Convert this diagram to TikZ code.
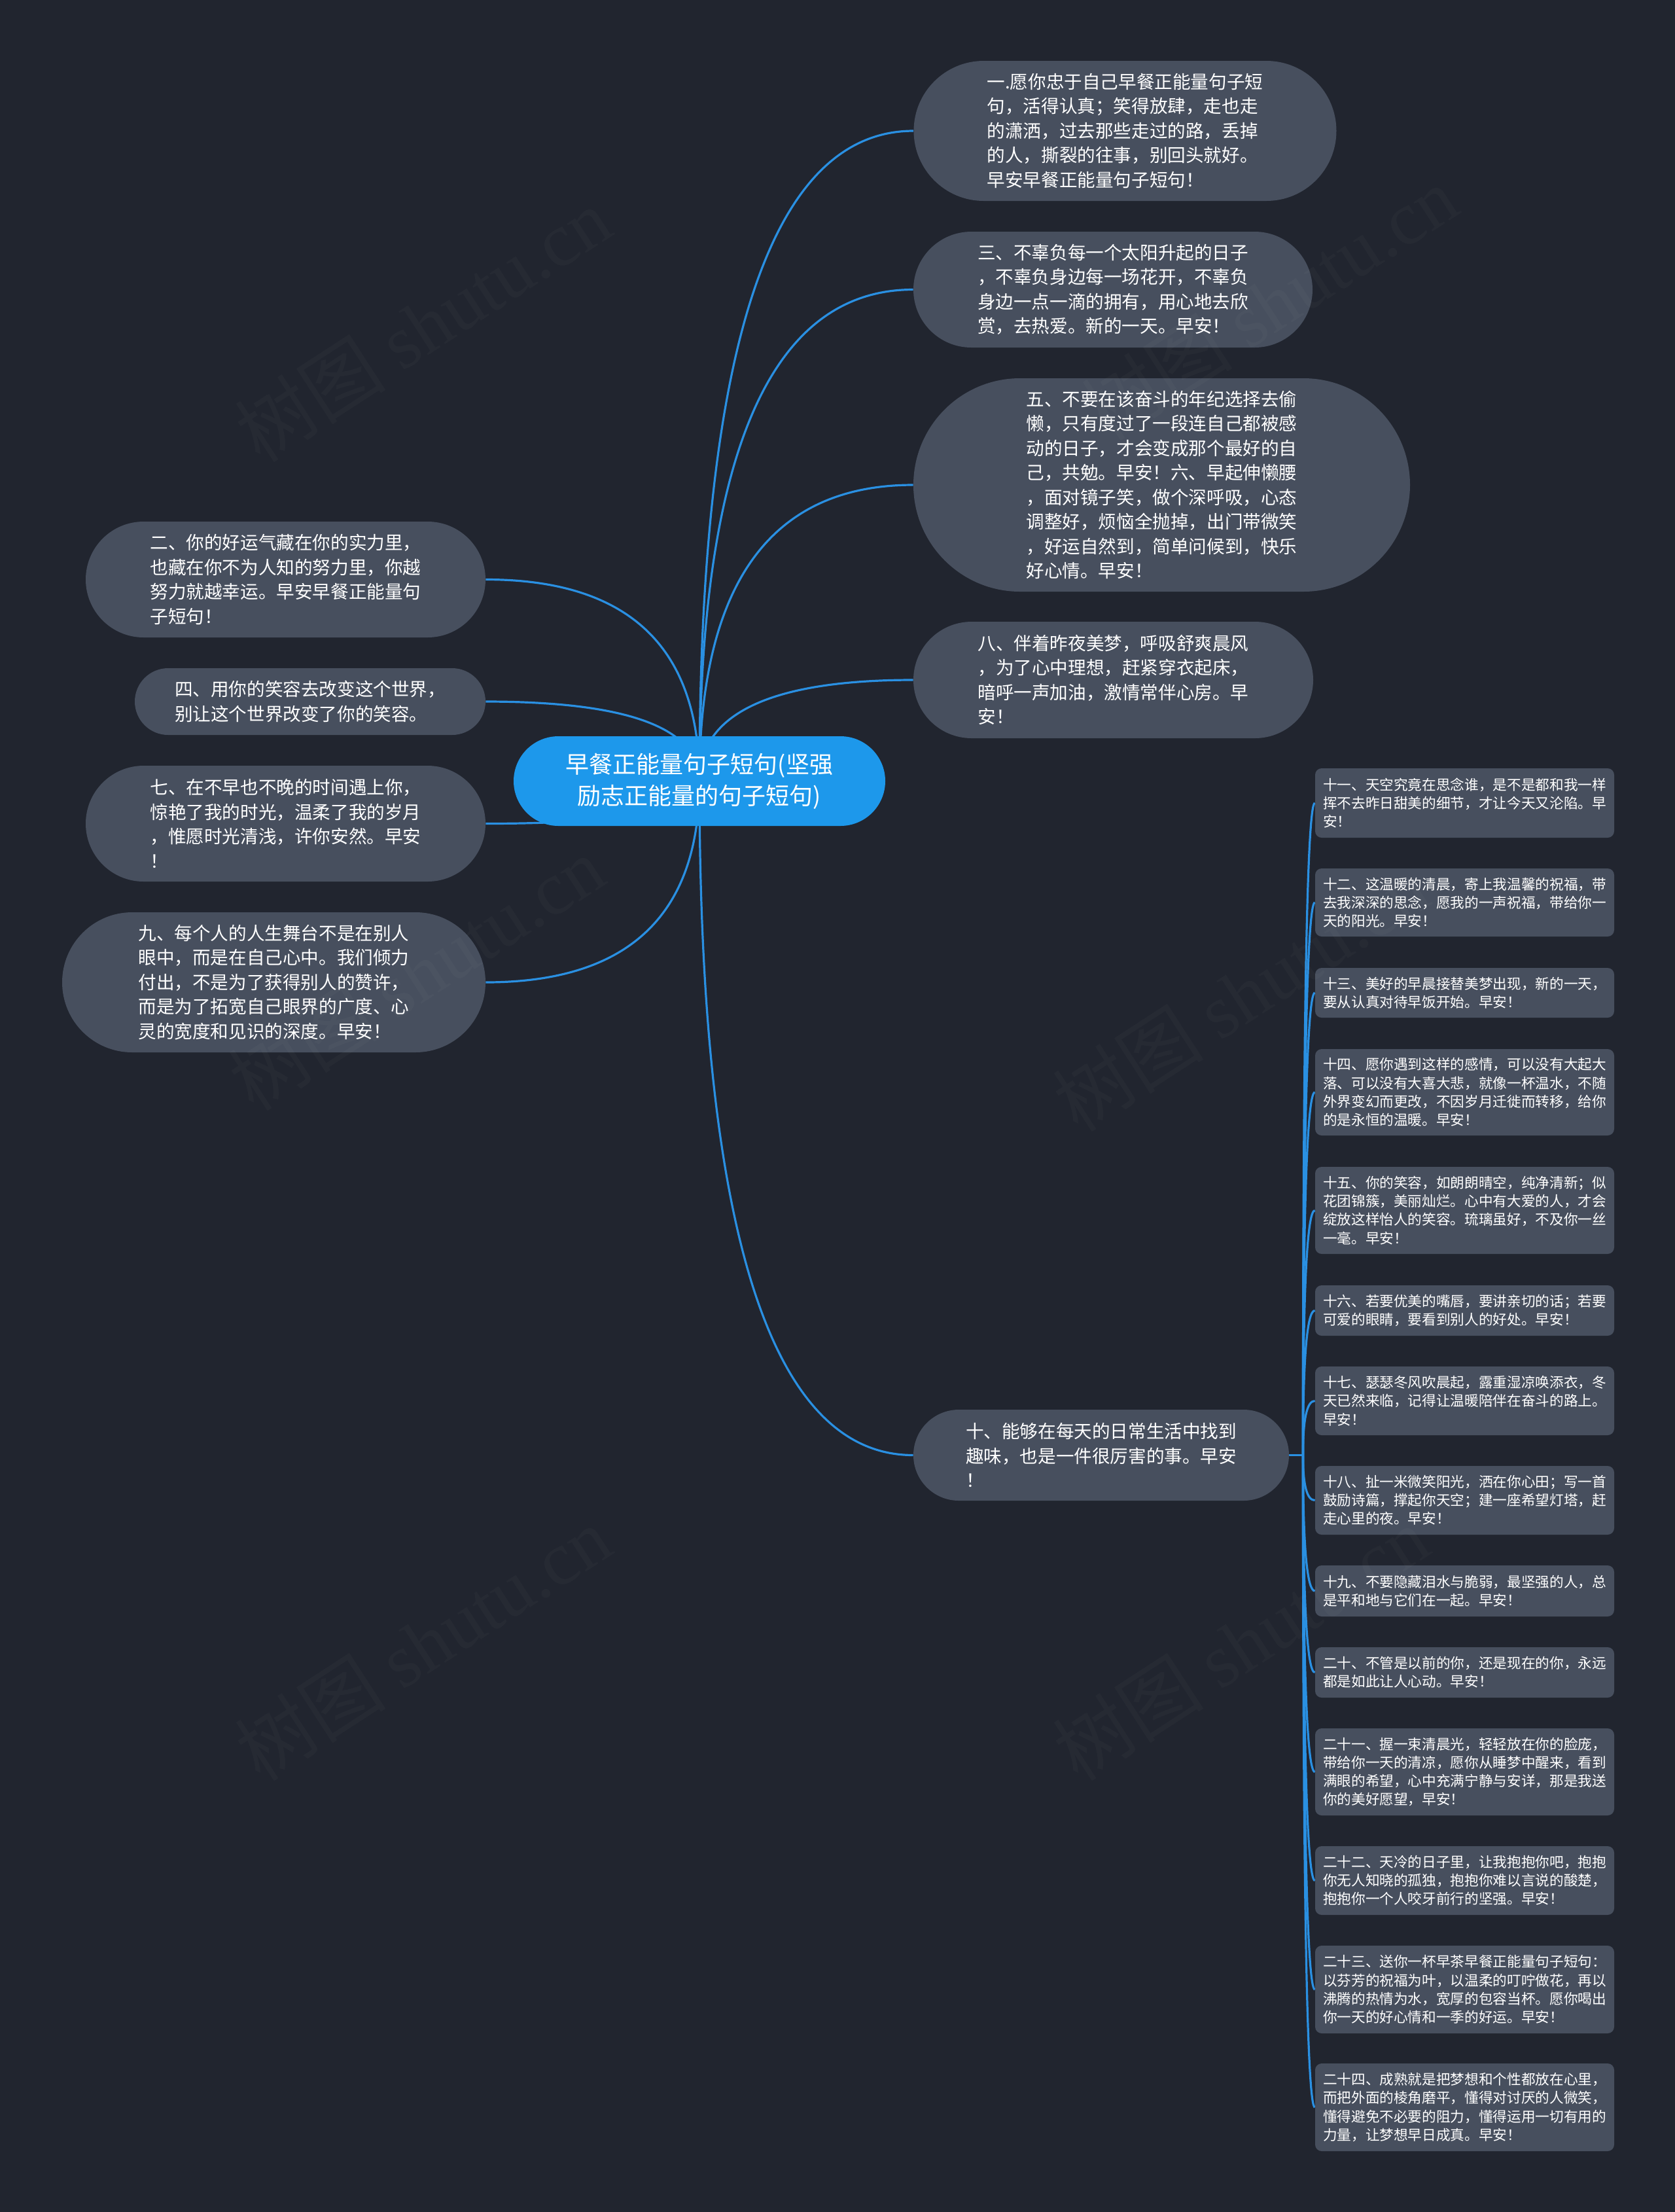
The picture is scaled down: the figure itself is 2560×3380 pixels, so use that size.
\documentclass[tikz,border=0pt]{standalone}
\usepackage{fontspec}
\setmainfont{Noto Sans CJK SC}
\newfontfamily\wmlatin{Liberation Serif}
\usetikzlibrary{calc}
\definecolor{bgc}{HTML}{21252F}
\definecolor{nodefill}{HTML}{474F5E}
\definecolor{rootblue}{HTML}{1D98EB}
\definecolor{linkblue}{HTML}{2A90E2}
\pgfdeclarelayer{back}
\pgfdeclarelayer{links}
\pgfsetlayers{back,links,main}
\newcommand\qlink[2]{%
  \draw[link] (#1) .. controls ($(#1)!0.6667!(#1|-#2)$) and ($(#2)!0.6667!(#1|-#2)$) .. (#2);}
\tikzset{
  pill/.style n args={2}{fill=nodefill, text=white, inner sep=0pt, align=left,
    font=\fontsize{13.8}{18.75}\selectfont,
    minimum width=#1*0.5pt, minimum height=#2*0.5pt, rounded corners=#2*0.25pt},
  small/.style={fill=nodefill, text=white, inner xsep=6pt, inner ysep=0pt, align=left,
    text width=216.5pt, font=\fontsize{10.83}{14.1}\selectfont,
    minimum width=228.5pt, minimum height=#1*0.5pt, rounded corners=5pt},
  root/.style={fill=rootblue, text=white, inner sep=0pt, align=center,
    font=\fontsize{18}{24}\selectfont,
    minimum width=284pt, minimum height=68.5pt, rounded corners=34.25pt},
  link/.style={draw=linkblue, line width=1.6pt},
  wm/.style={rotate=33, text=white, text opacity=0.025, font=\fontsize{58}{58}\selectfont, inner sep=0pt},
}
\begin{document}
\begin{tikzpicture}[x=0.5pt,y=-0.5pt]
\useasboundingbox (0,0) rectangle (2560,3380);
\begin{pgfonlayer}{back}
\fill[bgc] (0,0) rectangle (2560,3380);
\end{pgfonlayer}

% root
\node[root] (root) at (1069,1193.5) {早餐正能量句子短句(坚强\\励志正能量的句子短句)};

% right big nodes
\node[pill={646}{214}] (n1) at (1719.5,200) {一.愿你忠于自己早餐正能量句子短\\句，活得认真；笑得放肆，走也走\\的潇洒，过去那些走过的路，丢掉\\的人，撕裂的往事，别回头就好。\\早安早餐正能量句子短句！};
\node[pill={610}{177}] (n3) at (1701,442.5) {三、不辜负每一个太阳升起的日子\\，不辜负身边每一场花开，不辜负\\身边一点一滴的拥有，用心地去欣\\赏，去热爱。新的一天。早安！};
\node[pill={759}{326}] (n5) at (1775.5,741) {五、不要在该奋斗的年纪选择去偷\\懒，只有度过了一段连自己都被感\\动的日子，才会变成那个最好的自\\己，共勉。早安！六、早起伸懒腰\\，面对镜子笑，做个深呼吸，心态\\调整好，烦恼全抛掉，出门带微笑\\，好运自然到，简单问候到，快乐\\好心情。早安！};
\node[pill={611}{178}] (n8) at (1701.5,1039) {八、伴着昨夜美梦，呼吸舒爽晨风\\，为了心中理想，赶紧穿衣起床，\\暗呼一声加油，激情常伴心房。早\\安！};
\node[pill={574}{139}] (n10) at (1683,2223.5) {十、能够在每天的日常生活中找到\\趣味，也是一件很厉害的事。早安\\！};

% left big nodes
\node[pill={611}{177}] (n2) at (436.5,885.5) {二、你的好运气藏在你的实力里，\\也藏在你不为人知的努力里，你越\\努力就越幸运。早安早餐正能量句\\子短句！};
\node[pill={536}{102}] (n4) at (474,1072) {四、用你的笑容去改变这个世界，\\别让这个世界改变了你的笑容。};
\node[pill={611}{177}] (n7) at (436.5,1258.5) {七、在不早也不晚的时间遇上你，\\惊艳了我的时光，温柔了我的岁月\\，惟愿时光清浅，许你安然。早安\\！};
\node[pill={647}{214}] (n9) at (418.5,1501) {九、每个人的人生舞台不是在别人\\眼中，而是在自己心中。我们倾力\\付出，不是为了获得别人的赞许，\\而是为了拓宽自己眼界的广度、心\\灵的宽度和见识的深度。早安！};

% small nodes
\node[small=106] (s11) at (2238.5,1227) {十一、天空究竟在思念谁，是不是都和我一样\\挥不去昨日甜美的细节，才让今天又沦陷。早\\安！};
\node[small=104] (s12) at (2238.5,1379) {十二、这温暖的清晨，寄上我温馨的祝福，带\\去我深深的思念，愿我的一声祝福，带给你一\\天的阳光。早安！};
\node[small=76] (s13) at (2238.5,1517) {十三、美好的早晨接替美梦出现，新的一天，\\要从认真对待早饭开始。早安！};
\node[small=132] (s14) at (2238.5,1669) {十四、愿你遇到这样的感情，可以没有大起大\\落、可以没有大喜大悲，就像一杯温水，不随\\外界变幻而更改，不因岁月迁徙而转移，给你\\的是永恒的温暖。早安！};
\node[small=133] (s15) at (2238.5,1849.5) {十五、你的笑容，如朗朗晴空，纯净清新；似\\花团锦簇，美丽灿烂。心中有大爱的人，才会\\绽放这样怡人的笑容。琉璃虽好，不及你一丝\\一毫。早安！};
\node[small=77] (s16) at (2238.5,2002.5) {十六、若要优美的嘴唇，要讲亲切的话；若要\\可爱的眼睛，要看到别人的好处。早安！};
\node[small=105] (s17) at (2238.5,2140.5) {十七、瑟瑟冬风吹晨起，露重湿凉唤添衣，冬\\天已然来临，记得让温暖陪伴在奋斗的路上。\\早安！};
\node[small=105] (s18) at (2238.5,2292.5) {十八、扯一米微笑阳光，洒在你心田；写一首\\鼓励诗篇，撑起你天空；建一座希望灯塔，赶\\走心里的夜。早安！};
\node[small=78] (s19) at (2238.5,2431) {十九、不要隐藏泪水与脆弱，最坚强的人，总\\是平和地与它们在一起。早安！};
\node[small=77] (s20) at (2238.5,2555.5) {二十、不管是以前的你，还是现在的你，永远\\都是如此让人心动。早安！};
\node[small=133] (s21) at (2238.5,2707.5) {二十一、握一束清晨光，轻轻放在你的脸庞，\\带给你一天的清凉，愿你从睡梦中醒来，看到\\满眼的希望，心中充满宁静与安详，那是我送\\你的美好愿望，早安！};
\node[small=105] (s22) at (2238.5,2873.5) {二十二、天冷的日子里，让我抱抱你吧，抱抱\\你无人知晓的孤独，抱抱你难以言说的酸楚，\\抱抱你一个人咬牙前行的坚强。早安！};
\node[small=134] (s23) at (2238.5,3040) {二十三、送你一杯早茶早餐正能量句子短句：\\以芬芳的祝福为叶，以温柔的叮咛做花，再以\\沸腾的热情为水，宽厚的包容当杯。愿你喝出\\你一天的好心情和一季的好运。早安！};
\node[small=134] (s24) at (2238.5,3220) {二十四、成熟就是把梦想和个性都放在心里，\\而把外面的棱角磨平，懂得对讨厌的人微笑，\\懂得避免不必要的阻力，懂得运用一切有用的\\力量，让梦想早日成真。早安！};

% connectors
\begin{pgfonlayer}{links}
\qlink{root.center}{n1.west}
\qlink{root.center}{n3.west}
\qlink{root.center}{n5.west}
\qlink{root.center}{n8.west}
\qlink{root.center}{n10.west}
\qlink{root.center}{n2.east}
\qlink{root.center}{n4.east}
\qlink{root.center}{n7.east}
\qlink{root.center}{n9.east}
\coordinate (sp) at ($(n10.east)+(21,0)$);
\draw[link] (n10.east) -- (sp);
\foreach \s in {s11,s12,s13,s14,s15,s16,s17,s18,s19,s20,s21,s22,s23,s24}{
  \qlink{sp}{\s.west}
}
\end{pgfonlayer}

% watermark
\node[wm] (wm1) at (646,496) {树图 {\wmlatin shutu.cn}};
\node[wm] (wm2) at (1940,463) {树图 {\wmlatin shutu.cn}};
\node[wm] (wm3) at (636,1487) {树图 {\wmlatin shutu.cn}};
\node[wm] (wm4) at (1896,1519) {树图 {\wmlatin shutu.cn}};
\node[wm] (wm5) at (646,2511) {树图 {\wmlatin shutu.cn}};
\node[wm] (wm6) at (1896,2511) {树图 {\wmlatin shutu.cn}};
\end{tikzpicture}
\end{document}
